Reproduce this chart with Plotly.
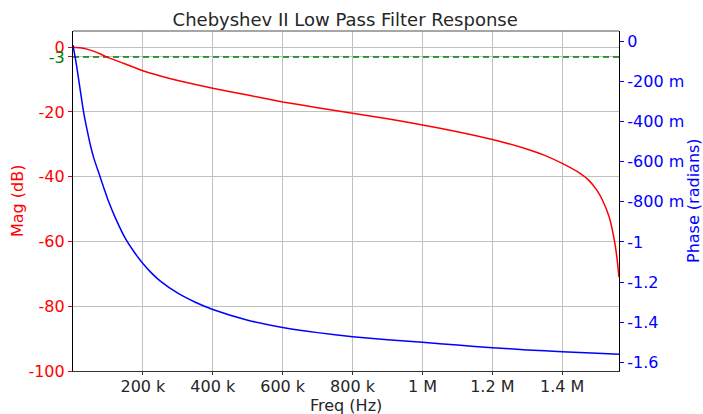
import plotly.graph_objects as go

# frequency response
mag_freq = [0, 20e3, 40e3, 60e3, 80e3, 96e3, 120e3, 150e3, 200e3, 250e3, 300e3, 400e3,
            500e3, 600e3, 700e3, 800e3, 900e3, 1.0e6, 1.1e6, 1.2e6, 1.3e6, 1.35e6, 1.4e6,
            1.45e6, 1.477e6, 1.5e6, 1.515e6, 1.534e6, 1.549e6, 1.556e6, 1.5625e6]
mag_db = [0, -0.15, -0.6, -1.3, -2.2, -3.0, -4.0, -5.2, -7.3, -8.9, -10.3, -12.7,
          -14.8, -16.9, -18.7, -20.4, -22.1, -24.0, -26.1, -28.5, -31.5, -33.4, -35.9,
          -38.9, -41.2, -44.3, -47.2, -52.3, -59.5, -64.5, -71.0]

ph_freq = [0, 5e3, 10e3, 20e3, 30e3, 40e3, 50e3, 60e3, 77e3, 90e3, 100e3, 120e3,
           149e3, 175e3, 200e3, 225e3, 250e3, 300e3, 350e3, 400e3, 500e3, 600e3,
           700e3, 800e3, 900e3, 1.0e6, 1.1e6, 1.2e6, 1.3e6, 1.4e6, 1.5e6, 1.5625e6]
ph_rad = [-0.02, -0.07, -0.12, -0.235, -0.35, -0.44, -0.52, -0.585, -0.673, -0.74,
          -0.79, -0.875, -0.98, -1.05, -1.107, -1.155, -1.195, -1.255, -1.300, -1.336,
          -1.389, -1.425, -1.451, -1.471, -1.487, -1.499, -1.513, -1.526, -1.537,
          -1.546, -1.554, -1.559]

x_ticks = [200e3, 400e3, 600e3, 800e3, 1.0e6, 1.2e6, 1.4e6]
x_labels = ["200 k", "400 k", "600 k", "800 k", "1 M", "1.2 M", "1.4 M"]
mag_ticks = [0, -3, -20, -40, -60, -80, -100]
mag_labels = ["0", "<span style='color:green'>-3</span>", "-20", "-40", "-60", "-80", "-100"]
ph_ticks = [0, -0.2, -0.4, -0.6, -0.8, -1.0, -1.2, -1.4, -1.6]
ph_labels = ["0", "-200 m", "-400 m", "-600 m", "-800 m", "-1", "-1.2", "-1.4", "-1.6"]

RED = "#ff0000"
BLUE = "#0000ff"
FONT = "DejaVu Sans"

fig = go.Figure()
fig.add_trace(go.Scatter(x=[0, 1.5625e6], y=[-3, -3], mode="lines",
                         line=dict(color="green", width=1.5, dash="6px,4px"),
                         hoverinfo="skip"))
fig.add_trace(go.Scatter(x=mag_freq, y=mag_db, mode="lines",
                         line=dict(color=RED, width=1.5, shape="spline", smoothing=0.5)))
fig.add_trace(go.Scatter(x=ph_freq, y=ph_rad, mode="lines", yaxis="y2",
                         line=dict(color=BLUE, width=1.5, shape="spline", smoothing=0.5)))

fig.update_layout(
    width=703, height=414,
    margin=dict(l=73, r=84, t=31, b=43),
    plot_bgcolor="white", paper_bgcolor="white",
    showlegend=False,
    font=dict(family=FONT, size=16, color="#262626"),
    title=dict(text="Chebyshev II Low Pass Filter Response", x=0.491, xanchor="center",
               y=0.953, yanchor="middle", yref="container",
               font=dict(size=18, color="#262626")),
    xaxis=dict(range=[0, 1.5625e6], tickvals=x_ticks, ticktext=x_labels,
               showgrid=True, gridcolor="#c0c0c0", gridwidth=1, zeroline=False,
               showline=True, linecolor="#333333", linewidth=1.2,
               ticks="outside", ticklen=3, tickcolor="#333333", automargin=False,
               ticklabelstandoff=-2),
    yaxis=dict(range=[-100, 5], tickvals=mag_ticks, ticktext=mag_labels,
               showgrid=True, gridcolor="#c0c0c0", gridwidth=1, zeroline=False,
               showline=True, linecolor="black", linewidth=1.2,
               ticks="outside", ticklen=4, tickcolor=RED, automargin=False,
               tickfont=dict(color=RED, size=16)),
    yaxis2=dict(range=[-1.642, 0.05], overlaying="y", side="right",
                tickvals=ph_ticks, ticktext=ph_labels,
                showgrid=False, zeroline=False,
                showline=True, linecolor="black", linewidth=1.2,
                ticks="outside", ticklen=4, tickcolor=BLUE, automargin=False,
                tickfont=dict(color=BLUE, size=16)),
)

# axis titles placed by hand so they sit where the reference has them
fig.add_annotation(text="Freq (Hz)", xref="paper", yref="paper", x=0.5, y=-0.101,
                   xanchor="center", yanchor="middle", showarrow=False, borderpad=0,
                   font=dict(size=16, color="#262626"))
fig.add_annotation(text="Mag (dB)", xref="paper", yref="paper", x=0, y=0.5,
                   xanchor="center", yanchor="middle", xshift=-56, textangle=-90,
                   showarrow=False, font=dict(size=16, color=RED))
fig.add_annotation(text="Phase (radians)", xref="paper", yref="paper", x=1, y=0.5,
                   xanchor="center", yanchor="middle", xshift=74, textangle=-90,
                   showarrow=False, font=dict(size=16, color=BLUE))

# grey top border of the plot frame
fig.add_shape(type="line", xref="paper", yref="paper", x0=0, x1=1, y0=1, y1=1,
              line=dict(color="#888888", width=1.5))

# the page body has a default 8px margin; drop it so the figure fills the window
fig.write_html("out.html", config={"displayModeBar": False},
               post_script="document.body.style.margin='0';")
